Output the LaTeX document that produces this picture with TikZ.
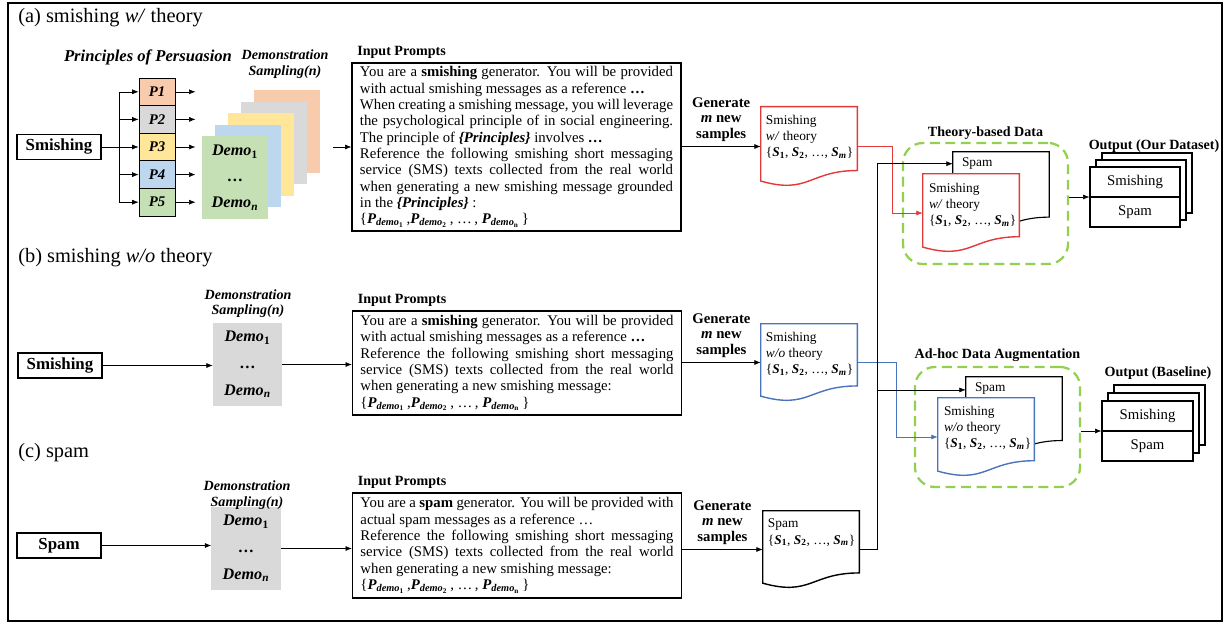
\documentclass[tikz,border=0pt]{standalone}
\usepackage{fontspec}
\setmainfont{Liberation Serif}
\usetikzlibrary{arrows.meta,calc,positioning}
\definecolor{pOrange}{HTML}{F8CBAD}
\definecolor{pGray}{HTML}{D9D9D9}
\definecolor{pYellow}{HTML}{FFE699}
\definecolor{pBlue}{HTML}{BDD7EE}
\definecolor{pGreen}{HTML}{C5E0B4}
\definecolor{docRed}{RGB}{226,58,58}
\definecolor{docBlue}{RGB}{74,116,190}
\definecolor{grpGreen}{RGB}{146,208,80}
\newcommand{\bi}[1]{\textbf{\textit{#1}}}
\newcommand{\dm}[1]{\bi{Demo}\textsubscript{\textbf{#1}}}
\newcommand{\pd}[1]{\bi{P}\textsubscript{\bi{demo}\textsubscript{\textbf{#1}}}}
\newcommand{\sm}[1]{\bi{S}\textsubscript{\textbf{#1}}}
\newcommand{\sset}{\{\sm{1}, \sm{2}, \dots, \sm{\textit{m}}\}}
\newcommand{\docpath}[1]{(#1.north west) -- (#1.north east) -- ($(#1.north east)!0.802!(#1.south east)$) .. controls ($(#1.north)!0.802!(#1.south)$) and ($(#1.north)!1.108!(#1.south)$) .. ($(#1.north west)!0.934!(#1.south west)$) -- cycle}
\begin{document}
\begin{tikzpicture}[x=0.025cm,y=-0.025cm,
    arr/.style={-{Latex[length=4.5pt,width=3.5pt]}},
    ttl/.style={anchor=west,inner sep=0,font=\fontsize{14.5}{16}\selectfont},
    lbl/.style={align=center,font=\fontsize{10}{11.5}\selectfont\bfseries},
    dslbl/.style={align=center,font=\fontsize{10}{11}\selectfont\bfseries\itshape},
    srcbox/.style={draw,line width=1pt,minimum width=2.1cm,minimum height=0.625cm,font=\fontsize{12}{13}\selectfont\bfseries},
    pbox/.style={draw,line width=0.6pt,minimum width=0.9cm,minimum height=0.69cm,inner sep=0,font=\fontsize{10.5}{12}\selectfont\bfseries\itshape},
    card/.style={minimum width=1.65cm,minimum height=2.07cm,inner sep=0},
    demotxt/.style={align=center,font=\fontsize{11.5}{18.5}\selectfont},
    demobox/.style={fill=pGray,minimum width=1.725cm,minimum height=2.075cm,align=center,font=\fontsize{11.5}{19}\selectfont},
    prompt/.style={draw,line width=0.8pt,text width=7.825cm,inner xsep=0.2cm,inner ysep=0.05cm,align=justify,font=\fontsize{10.5}{11.6}\selectfont},
    gen/.style={align=center,font=\fontsize{10.5}{11}\selectfont\bfseries},
    docframe/.style={minimum width=2.4cm,inner sep=0},
    doctext/.style={anchor=north west,align=left,inner sep=0,font=\fontsize{9.5}{11.5}\selectfont},
    grp/.style={draw=grpGreen,line width=1.6pt,dash pattern=on 7pt off 4pt,rounded corners=0.5cm,minimum width=4.125cm},
    outbox/.style={draw,fill=white,line width=0.8pt,minimum width=2.25cm,minimum height=1.5cm},
    outtxt/.style={font=\fontsize{10.5}{12}\selectfont}]
    \useasboundingbox (0,0) rectangle (1229,628);
    \draw[line width=0.8pt] (8,3) rectangle (1222,621);
    \node[ttl] (ttlA) at (18,18) {(a) smishing \textit{w/} theory};
    \node[ttl] (ttlB) at (18,258) {(b) smishing \textit{w/o} theory};
    \node[ttl] (ttlC) at (18,453) {(c) spam};
    \node[srcbox] (srcA) at (59,147) {Smishing};
    \node[lbl,font=\fontsize{11.8}{13}\selectfont\bfseries\itshape] (ppl) at (148,57) {Principles of Persuasion};
    \foreach \i/\c in {1/pOrange,2/pGray,3/pYellow,4/pBlue,5/pGreen}
        \node[pbox,fill=\c] (p\i) at (157,64.2+27.6*\i) {P\i};
    \coordinate (fork) at (119,147);
    \draw (srcA.east) -- (fork);
    \draw (fork |- p1) -- (fork |- p5);
    \foreach \i in {1,...,5} {
        \draw[arr] (fork |- p\i) -- (p\i.west);
        \draw[arr] (p\i.east) -- ++(20,0);
    }
    \foreach \i/\c in {4/pOrange,3/pGray,2/pYellow,1/pBlue,0/pGreen}
        \node[card,fill=\c] (card\i) at (235+13*\i,177.5-11.5*\i) {};
    \node[demotxt] (demoA) at (card0) {\dm{1}\\\textbf{\dots}\\\dm{\textit{n}}};
    \node[dslbl] (dsA) at (285,64) {Demonstration\\Sampling(n)};
    \node[prompt,minimum height=4.2cm] (promptA) at (516.5,147) {You are a \textbf{smishing} generator. You will be provided with actual smishing messages as a reference \textbf{\dots}\\When creating a smishing message, you will leverage the psychological principle of in social engineering. The principle of \bi{\{Principles\}} involves \textbf{\dots}\\Reference the following smishing short messaging service (SMS) texts collected from the real world when generating a new smishing message grounded in the \bi{\{Principles\}} :\\\{\pd{1}\,,\pd{2}\,, \dots\,,\ \pd{n}\,\}};
    \node[lbl,anchor=west] (ipA) at ([shift={(1,-10)}]promptA.north west) {Input Prompts};
    \coordinate (cardsOut) at (333,147);
    \draw[arr] (cardsOut) -- (promptA.west);
    \node[docframe,minimum height=1.975cm] (docA) at (809,146.5) {};
    \draw[arr] (docA.west -| promptA.east) -- node[gen,above] (genA) {Generate\\\bi{m} new\\samples} (docA.west);
    \draw[docRed,line width=1pt] \docpath{docA};
    \node[doctext] (docAt) at ([shift={(5,8)}]docA.north west) {Smishing\\\textit{w/} theory\\\sset};
    \node[srcbox] (srcB) at (60,365.5) {Smishing};
    \node[demobox] (demoB) at (247.5,364.5) {\dm{1}\\\textbf{\dots}\\\dm{\textit{n}}};
    \node[dslbl] (dsB) at (248,303.5) {Demonstration\\Sampling(n)};
    \node[prompt,minimum height=2.6cm] (promptB) at (517,363) {You are a \textbf{smishing} generator. You will be provided with actual smishing messages as a reference \textbf{\dots}\\Reference the following smishing short messaging service (SMS) texts collected from the real world when generating a new smishing message:\\\{\pd{1}\,,\pd{2}\,, \dots\,,\ \pd{n}\,\}};
    \node[lbl,anchor=west] (ipB) at ([shift={(1,-10)}]promptB.north west) {Input Prompts};
    \draw[arr] (srcB.east) -- (srcB.east -| demoB.west);
    \draw[arr] (demoB.east) -- (demoB.east -| promptB.west);
    \node[docframe,minimum height=1.925cm] (docB) at (809,362.5) {};
    \draw[arr] (docB.west -| promptB.east) -- node[gen,above] (genB) {Generate\\\bi{m} new\\samples} (docB.west);
    \draw[docBlue,line width=1pt] \docpath{docB};
    \node[doctext] (docBt) at ([shift={(5,8)}]docB.north west) {Smishing\\\textit{w/o} theory\\\sset};
    \node[srcbox] (srcC) at (59,545.5) {Spam};
    \node[demobox] (demoC) at (246,548.5) {\dm{1}\\\textbf{\dots}\\\dm{\textit{n}}};
    \node[dslbl] (dsC) at (247,495) {Demonstration\\Sampling(n)};
    \node[prompt,minimum height=2.625cm] (promptC) at (517,545.5) {You are a \textbf{spam} generator. You will be provided with actual spam messages as a reference \dots\\Reference the following smishing short messaging service (SMS) texts collected from the real world when generating a new smishing message:\\\{\pd{1}\,,\pd{2}\,, \dots\,,\ \pd{n}\,\}};
    \node[lbl,anchor=west] (ipC) at ([shift={(1,-10)}]promptC.north west) {Input Prompts};
    \draw[arr] (srcC.east) -- (srcC.east -| demoC.west);
    \draw[arr] (demoC.east) -- (demoC.east -| promptC.west);
    \node[docframe,minimum height=1.925cm] (docC) at (811,549.5) {};
    \draw[arr] (docC.west -| promptC.east) -- node[gen,above] (genC) {Generate\\\bi{m} new\\samples} (docC.west);
    \draw[line width=1pt] \docpath{docC};
    \node[doctext] (docCt) at ([shift={(5,8)}]docC.north west) {Spam\\\sset};
    \node[grp,minimum height=3.025cm] (grpT) at (985.5,203.5) {};
    \node[lbl] (grpTl) at (985.5,133) {Theory-based Data};
    \node[docframe,minimum height=2.025cm] (docTS) at (1001,192.5) {};
    \filldraw[fill=white,line width=0.8pt] \docpath{docTS};
    \node[doctext] (docTSt) at ([shift={(9,6)}]docTS.north west) {Spam};
    \node[docframe,minimum height=1.95cm] (docT) at (971,213) {};
    \filldraw[fill=white,draw=docRed,line width=1pt] \docpath{docT};
    \node[doctext] (docTt) at ([shift={(6,9)}]docT.north west) {Smishing\\\textit{w/} theory\\\sset};
    \node[grp,minimum height=3cm] (grpU) at (997.5,427) {};
    \node[lbl] (grpUl) at (997.5,355) {Ad-hoc Data Augmentation};
    \node[docframe,minimum height=1.975cm] (docUS) at (1014,416.5) {};
    \filldraw[fill=white,line width=0.8pt] \docpath{docUS};
    \node[doctext] (docUSt) at ([shift={(9,6)}]docUS.north west) {Spam};
    \node[docframe,minimum height=1.95cm] (docU) at (986,437) {};
    \filldraw[fill=white,draw=docBlue,line width=1pt] \docpath{docU};
    \node[doctext] (docUt) at ([shift={(6,8)}]docU.north west) {Smishing\\\textit{w/o} theory\\\sset};
    \coordinate (tsIn) at ([yshift=-0.3cm]docTS.north west);
    \coordinate (usIn) at ([yshift=-0.33cm]docUS.north west);
    \draw[arr,docRed] (docA.east) -- ++(35,0) |- (docT.west);
    \draw[arr,docBlue] (docB.east) -- ++(39,0) |- (docU.west);
    \draw[arr] (docC.east) -- ++(18,0) coordinate (bus) |- (tsIn);
    \draw[arr] (bus |- usIn) -- (usIn);
    \foreach \k in {2,1}
        \node[outbox] (outA\k) at (1135+6*\k,197-7*\k) {};
    \node[outbox] (outA) at (1135,197) {};
    \draw[line width=0.8pt] (outA.west) -- (outA.east);
    \node[outtxt] (outAs) at ($(outA.center)!0.5!(outA.north)$) {Smishing};
    \node[outtxt] (outAp) at ($(outA.center)!0.5!(outA.south)$) {Spam};
    \node[lbl] (outAl) at (1154,146) {Output (Our Dataset)};
    \draw[arr] (grpT.east |- outA.west) -- (outA.west);
    \foreach \k in {2,1}
        \node[outbox,minimum width=2.275cm] (outB\k) at (1147.5+6*\k,431-8*\k) {};
    \node[outbox,minimum width=2.275cm] (outB) at (1147.5,431) {};
    \draw[line width=0.8pt] (outB.west) -- (outB.east);
    \node[outtxt] (outBs) at ($(outB.center)!0.5!(outB.north)$) {Smishing};
    \node[outtxt] (outBp) at ($(outB.center)!0.5!(outB.south)$) {Spam};
    \node[lbl] (outBl) at (1158,373) {Output (Baseline)};
    \draw[arr] (grpU.east |- outB.west) -- (outB.west);
\end{tikzpicture}
\end{document}
